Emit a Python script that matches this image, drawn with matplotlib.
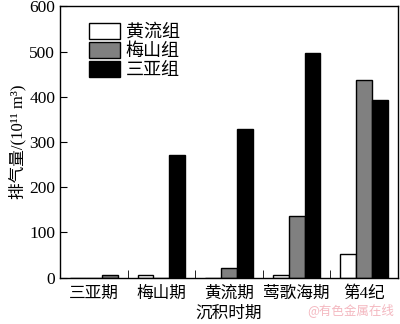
import numpy as np
import matplotlib.pyplot as plt
from matplotlib.patches import Patch

plt.rcParams['font.family'] = ['Liberation Serif', 'Noto Sans CJK SC']

periods = ['三亚期', '梅山期', '黄流期', '莺歌海期', '第4纪']
series = ['黄流组', '梅山组', '三亚组']
huangliu = [0, 5, 0, 6, 53]
meishan = [0, 0, 20, 136, 437]
sanya = [5, 271, 329, 496, 394]

colors = ['white', '#808080', 'black']

fig = plt.figure(figsize=(4, 3.24), dpi=100)
ax = fig.add_axes([0.15, 0.1435, 0.845, 0.8365])

x = np.arange(len(periods))
w = 0.235
data = [huangliu, meishan, sanya]
bars = []
for i, (vals, c) in enumerate(zip(data, colors)):
    b = ax.bar(x + (i - 1) * w, vals, w, color=c, edgecolor='black',
               linewidth=1)
    bars.append(b)

# small bars in the first two periods are shaded differently
bars[2][0].set_facecolor('#808080')
bars[0][1].set_facecolor('white')

ax.set_xlim(-0.5, 4.5)
ax.set_ylim(0, 600)
ax.set_yticks(range(0, 601, 100))
ax.tick_params(axis='y', direction='in', length=5, labelsize=12.5, right=False)
ax.set_xticks(x)
ax.set_xticklabels(periods, fontsize=12)
ax.tick_params(axis='x', which='major', length=0, labelsize=12, pad=6)
ax.set_xticks(x[:-1] + 0.5, minor=True)
ax.tick_params(axis='x', which='minor', direction='in', length=6)

for s in ax.spines.values():
    s.set_linewidth(1)

ax.set_ylabel('排气量/(10¹¹ m³)', fontsize=12, labelpad=2)
ax.set_xlabel('沉积时期', fontsize=12, labelpad=3)

handles = [Patch(facecolor=c, edgecolor='black', linewidth=1) for c in colors]
ax.legend(handles, series, loc='upper left', bbox_to_anchor=(0.055, 0.98),
          frameon=False, fontsize=13, handlelength=1.7, handleheight=1.0,
          handletextpad=0.3, labelspacing=0.05, borderaxespad=0.2)

fig.text(0.985, 0.02, '@有色金属在线', color='#f4b8c0', fontsize=9,
         ha='right', va='bottom', family=['Noto Sans CJK SC'])

fig.savefig('out.png', dpi=100)
